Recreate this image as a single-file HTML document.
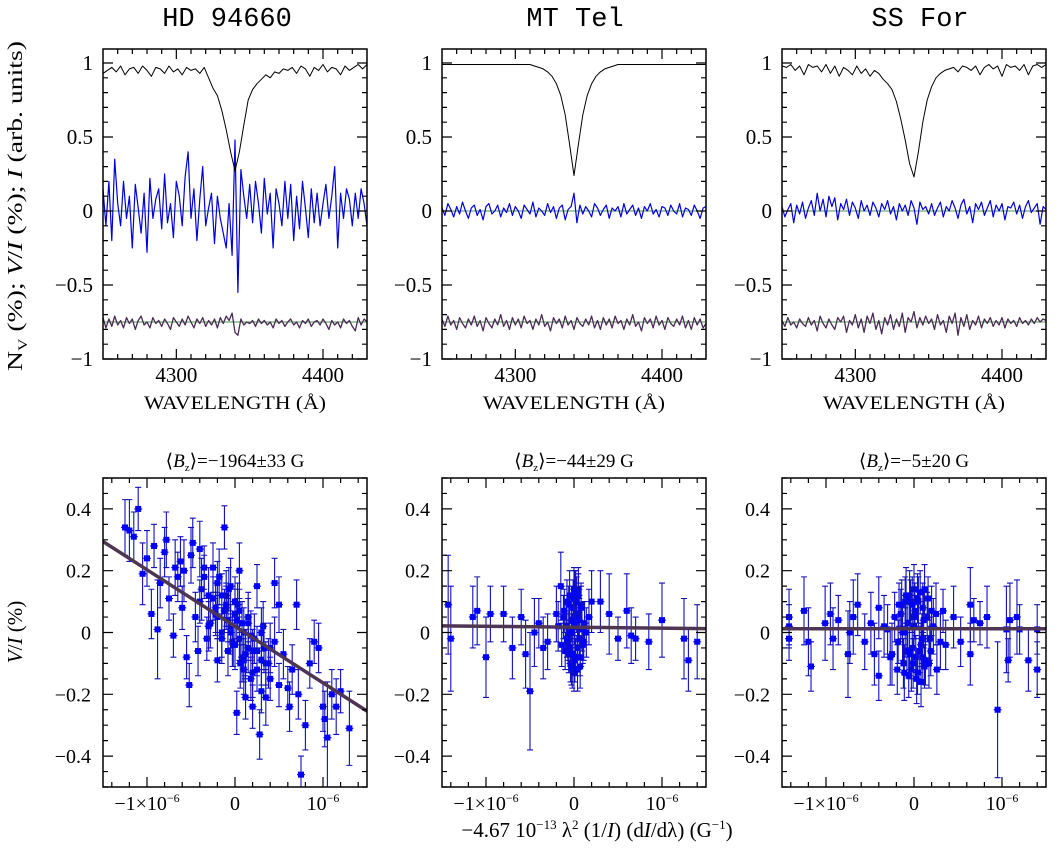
<!DOCTYPE html>
<html><head><meta charset="utf-8"><title>Magnetic field panels</title>
<style>
html,body{margin:0;padding:0;background:#fff;}
svg{display:block;font-family:"Liberation Serif",serif;}
</style></head>
<body>
<svg id="fig" xmlns="http://www.w3.org/2000/svg" width="1060" height="848" viewBox="0 0 1060 848">
<rect x="0" y="0" width="1060" height="848" fill="#fff"/>
<text x="227" y="26" font-family="Liberation Mono, monospace" font-size="27" text-anchor="middle">HD 94660</text>
<text x="575" y="26" font-family="Liberation Mono, monospace" font-size="27" text-anchor="middle">MT Tel</text>
<text x="920" y="26" font-family="Liberation Mono, monospace" font-size="27" text-anchor="middle">SS For</text>
<text transform="translate(22,206) rotate(-90)" font-size="21" text-anchor="middle" textLength="330" lengthAdjust="spacingAndGlyphs">N<tspan font-size="13" dy="5">V</tspan><tspan dy="-5"> (%); </tspan><tspan font-style="italic">V</tspan>/<tspan font-style="italic">I</tspan> (%); <tspan font-style="italic">I</tspan> (arb. units)</text>
<text transform="translate(22,632) rotate(-90)" font-size="21" text-anchor="middle"><tspan font-style="italic">V</tspan>/<tspan font-style="italic">I</tspan> (%)</text>
<text x="597" y="837" font-size="21" text-anchor="middle">−4.67 10<tspan font-size="13" dy="-8">−13</tspan><tspan dy="8"> λ</tspan><tspan font-size="13" dy="-8">2</tspan><tspan dy="8"> (1/</tspan><tspan font-style="italic">I</tspan>) (d<tspan font-style="italic">I</tspan>/dλ) (G<tspan font-size="13" dy="-8">−1</tspan><tspan dy="8">)</tspan></text>
</svg>
<script>
// ---------- data ----------
const wlRange = [4250, 4430];
const hdI = [0.93,0.95,0.97,0.94,0.98,0.92,0.96,0.97,0.93,0.98,0.95,0.91,0.97,0.96,0.93,0.98,0.94,0.96,0.92,0.97,0.95,0.96,0.93,0.97,0.90,0.83,0.78,0.68,0.55,0.40,0.27,0.40,0.58,0.75,0.82,0.86,0.89,0.92,0.90,0.94,0.93,0.96,0.95,0.97,0.93,0.98,0.96,0.91,0.97,0.95,0.99,0.94,0.97,0.96,0.92,0.98,0.95,0.97,0.99,0.96,0.99];
const mtI = [0.99,0.99,0.99,0.99,0.99,0.99,0.99,0.99,0.99,0.99,0.99,0.99,0.99,0.99,0.99,0.99,0.99,0.99,0.99,0.99,0.99,0.98,0.97,0.96,0.94,0.91,0.86,0.78,0.65,0.45,0.24,0.45,0.65,0.78,0.86,0.91,0.94,0.96,0.97,0.98,0.99,0.99,0.99,0.99,0.99,0.99,0.99,0.99,0.99,0.99,0.99,0.99,0.99,0.99,0.99,0.99,0.99,0.99,0.99,0.99,0.99];
const ssI = [0.98,0.97,0.99,0.95,0.98,0.92,0.99,0.97,0.98,0.94,0.99,0.93,0.98,0.91,0.97,0.95,0.92,0.98,0.93,0.96,0.91,0.95,0.93,0.89,0.86,0.82,0.74,0.62,0.48,0.32,0.23,0.40,0.60,0.75,0.84,0.90,0.93,0.95,0.96,0.97,0.94,0.98,0.97,0.95,0.98,0.92,0.97,0.99,0.96,0.98,0.91,0.99,0.97,0.98,0.95,0.99,0.92,0.98,0.99,0.97,0.99];
const hdV = [0.15,-0.1,0.2,-0.2,0.35,0.05,-0.1,0.2,-0.05,0.1,-0.25,0.18,0.02,-0.15,0.12,-0.28,0.22,-0.05,0.08,0.15,-0.12,0.25,-0.08,0.05,-0.18,0.2,0.1,-0.1,0.23,0.4,-0.05,0.15,-0.2,0.08,0.3,-0.1,0.02,0.12,-0.22,0.1,-0.05,-0.15,-0.25,0.05,-0.3,0.48,-0.55,0.28,0.1,-0.05,0.18,-0.08,0.2,0.05,-0.15,0.22,-0.02,0.12,-0.25,0.15,0.05,-0.1,0.2,-0.05,0.18,-0.2,0.1,-0.12,0.2,0.02,-0.18,0.15,-0.08,0.12,-0.1,0.05,0.18,-0.05,0.1,0.3,-0.25,0.12,-0.05,0.15,0.08,-0.1,0.12,-0.05,0.15,0.05,-0.1];
const mtV = [0.02,-0.03,0.05,0.01,-0.04,0.03,-0.02,0.06,0.0,-0.05,0.02,0.04,-0.03,0.01,-0.06,0.03,0.05,-0.02,0.0,0.04,-0.04,0.02,-0.01,0.05,-0.03,0.03,0.0,-0.05,0.04,0.01,-0.02,0.06,-0.04,0.02,0.0,-0.03,0.05,-0.01,0.03,-0.05,0.02,0.04,-0.06,0.01,0.03,0.12,-0.08,0.04,-0.02,0.03,0.0,-0.04,0.05,0.02,-0.03,0.01,0.04,-0.05,0.02,0.0,0.03,-0.04,0.05,-0.02,0.01,0.04,-0.03,0.02,-0.05,0.03,0.0,0.05,-0.02,0.01,-0.04,0.03,0.02,-0.03,0.04,0.0,-0.02,0.05,-0.04,0.02,0.01,-0.03,0.04,0.0,-0.05,0.02,0.03];
const ssV = [0.03,-0.04,0.01,0.05,-0.08,0.04,-0.02,0.06,-0.05,0.02,0.07,-0.03,0.12,0.0,0.08,-0.04,0.1,0.03,0.09,-0.06,0.05,0.01,0.08,-0.03,0.06,0.02,-0.05,0.07,0.0,0.04,-0.03,0.06,0.02,-0.04,0.05,0.01,0.07,-0.02,0.03,-0.06,0.05,0.0,0.04,-0.03,0.07,0.02,-0.09,0.06,0.01,0.03,-0.02,0.05,-0.03,0.02,0.06,-0.04,0.03,0.0,0.07,0.02,-0.05,0.04,0.08,-0.02,0.03,-0.08,0.05,0.01,0.06,-0.03,0.02,0.07,-0.04,0.04,0.0,0.05,-0.06,0.03,0.02,0.06,-0.02,0.04,-0.05,0.03,0.07,-0.01,0.02,0.05,-0.09,0.03,0.01];
const hdN = [-0.72,-0.79,-0.73,-0.78,-0.71,-0.77,-0.74,-0.79,-0.72,-0.76,-0.73,-0.8,-0.74,-0.71,-0.77,-0.75,-0.79,-0.72,-0.76,-0.74,-0.78,-0.73,-0.76,-0.8,-0.72,-0.75,-0.78,-0.73,-0.77,-0.71,-0.75,-0.79,-0.73,-0.76,-0.72,-0.78,-0.74,-0.77,-0.73,-0.79,-0.72,-0.76,-0.71,-0.74,-0.69,-0.82,-0.84,-0.73,-0.77,-0.75,-0.76,-0.74,-0.78,-0.73,-0.76,-0.74,-0.77,-0.75,-0.79,-0.73,-0.76,-0.74,-0.78,-0.75,-0.73,-0.77,-0.75,-0.79,-0.74,-0.76,-0.73,-0.78,-0.75,-0.74,-0.77,-0.73,-0.76,-0.8,-0.74,-0.77,-0.75,-0.79,-0.73,-0.76,-0.74,-0.78,-0.81,-0.72,-0.77,-0.73,-0.75];
const mtN = [-0.73,-0.78,-0.71,-0.77,-0.74,-0.8,-0.72,-0.76,-0.79,-0.73,-0.77,-0.71,-0.78,-0.74,-0.81,-0.72,-0.76,-0.79,-0.73,-0.77,-0.7,-0.78,-0.74,-0.8,-0.72,-0.77,-0.73,-0.79,-0.71,-0.76,-0.74,-0.8,-0.73,-0.77,-0.7,-0.78,-0.75,-0.81,-0.72,-0.76,-0.73,-0.79,-0.71,-0.77,-0.74,-0.8,-0.72,-0.76,-0.78,-0.73,-0.77,-0.71,-0.79,-0.74,-0.8,-0.72,-0.77,-0.73,-0.79,-0.71,-0.76,-0.74,-0.8,-0.73,-0.77,-0.7,-0.78,-0.75,-0.81,-0.72,-0.76,-0.73,-0.79,-0.71,-0.77,-0.74,-0.8,-0.72,-0.76,-0.78,-0.73,-0.77,-0.71,-0.79,-0.74,-0.8,-0.72,-0.77,-0.73,-0.79,-0.76];
const ssN = [-0.74,-0.78,-0.72,-0.77,-0.75,-0.79,-0.73,-0.76,-0.78,-0.72,-0.77,-0.74,-0.81,-0.71,-0.76,-0.79,-0.73,-0.77,-0.8,-0.72,-0.75,-0.71,-0.82,-0.74,-0.77,-0.7,-0.79,-0.73,-0.82,-0.71,-0.76,-0.69,-0.8,-0.74,-0.83,-0.72,-0.77,-0.7,-0.8,-0.73,-0.78,-0.69,-0.82,-0.72,-0.75,-0.68,-0.79,-0.72,-0.77,-0.71,-0.76,-0.73,-0.8,-0.7,-0.77,-0.74,-0.82,-0.71,-0.76,-0.69,-0.84,-0.72,-0.78,-0.7,-0.8,-0.74,-0.77,-0.71,-0.79,-0.73,-0.76,-0.72,-0.78,-0.74,-0.77,-0.72,-0.79,-0.73,-0.76,-0.74,-0.78,-0.72,-0.76,-0.74,-0.77,-0.73,-0.76,-0.72,-0.75,-0.73,-0.74];

// scatter data (x in units of 1e-6)
const hdX = [-1.25,-1.2,-1.15,-1.1,-1.05,-1.0,-0.95,-0.92,-0.88,-0.85,-0.8,-0.78,-0.75,-0.7,-0.68,-0.65,-0.62,-0.6,-0.58,-0.55,-0.52,-0.5,-0.48,-0.45,-0.42,-0.4,-0.38,-0.35,-0.32,-0.3,-0.28,-0.25,-0.22,-0.2,-0.18,-0.15,-0.12,-0.1,-0.08,-0.05,-0.03,0,0.02,0.05,0.08,0.1,0.12,0.15,0.18,0.2,0.22,0.25,0.28,0.3,0.32,0.35,0.38,0.4,0.45,0.5,0.55,0.6,0.62,0.65,0.7,0.72,0.75,0.8,0.85,0.9,0.95,1.0,1.02,1.05,1.1,1.15,1.2,1.3,-0.1,0.05,-0.2,0.15,-0.05,0.1,0.0,-0.15,0.25,0.3,-0.02,0.03,0.06,-0.08,0.12,-0.12,0.2,0.08,-0.35,-0.3,-0.25,-0.2,-0.15,-0.1,-0.05,0,0.05,0.1,0.15,0.2,0.25,0.3,0.35,0.4,0.45,0.5,-0.22,0.18,0.02,-0.07,0.33,-0.4];
const hdY = [0.34,0.33,0.31,0.40,0.19,0.24,0.06,0.28,0.01,0.16,0.26,0.30,0.11,-0.01,0.21,0.18,0.23,0.08,0.20,-0.08,-0.17,0.25,0.29,0.05,-0.06,0.27,0.14,0.21,-0.02,0.12,0.03,0.21,0.08,-0.09,0.18,0.0,0.34,0.12,-0.06,0.15,-0.03,0.06,-0.26,0.2,-0.08,-0.12,-0.21,0.05,-0.15,-0.24,-0.02,0.15,-0.33,-0.19,0.02,-0.21,-0.1,-0.05,0.16,0.09,-0.07,-0.18,-0.24,-0.12,0.09,-0.2,-0.46,-0.3,-0.1,-0.03,-0.05,-0.24,-0.28,-0.34,-0.2,-0.24,-0.19,-0.31,0.08,-0.02,0.05,-0.05,0.02,0.0,0.1,0.12,-0.06,-0.09,-0.04,0.09,-0.1,0.04,-0.07,0.07,-0.13,0.03,0.18,0.02,0.11,0.16,-0.02,0.09,0.0,-0.04,0.07,-0.09,0.03,-0.06,-0.12,0.0,-0.1,-0.15,-0.03,-0.17,0.06,-0.01,0.04,0.14,-0.05,0.1];
const hdE = [0.09,0.1,0.08,0.07,0.1,0.09,0.08,0.07,0.16,0.08,0.08,0.09,0.07,0.07,0.09,0.08,0.08,0.07,0.1,0.07,0.07,0.09,0.08,0.08,0.08,0.09,0.1,0.07,0.07,0.09,0.08,0.08,0.08,0.07,0.09,0.08,0.07,0.08,0.08,0.09,0.08,0.08,0.07,0.09,0.08,0.08,0.07,0.08,0.07,0.07,0.08,0.07,0.08,0.07,0.08,0.09,0.08,0.08,0.08,0.09,0.08,0.07,0.08,0.08,0.08,0.08,0.06,0.08,0.08,0.07,0.08,0.08,0.09,0.18,0.08,0.09,0.07,0.12,0.07,0.07,0.07,0.08,0.07,0.08,0.08,0.07,0.08,0.08,0.07,0.07,0.08,0.07,0.08,0.07,0.08,0.07,0.07,0.08,0.07,0.07,0.08,0.07,0.07,0.08,0.07,0.07,0.08,0.07,0.07,0.08,0.07,0.07,0.08,0.07,0.07,0.08,0.07,0.07,0.08,0.07];
const mtX = [-1.43,-1.4,-1.15,-1.1,-1.0,-0.95,-0.8,-0.7,-0.6,-0.55,-0.5,-0.45,-0.4,-0.35,-0.3,-0.2,-0.15,0.05,0.2,0.3,0.4,0.5,0.6,0.65,0.7,0.85,1.0,1.25,1.3,1.4,1.6,-0.12,-0.1,-0.08,-0.07,-0.05,-0.04,-0.03,-0.02,-0.01,0,0,0.01,0.02,0.03,0.04,0.05,0.06,0.08,0.1,0.12,-0.06,0.02,-0.02,0.07,0.0,-0.09,-0.06,-0.04,-0.01,0.01,0.03,0.05,0.07,0.09,0.11,-0.11,-0.03,0.0,0.02,0.04,-0.05,0.06,-0.08,0.08,-0.02,0.01,0.14,-0.14,0.17,-0.18];
const mtY = [0.09,-0.02,0.05,0.07,-0.08,0.06,0.06,-0.05,0.05,-0.07,-0.19,0.0,0.03,-0.05,-0.03,0.06,0.15,0.14,0.1,0.1,0.06,-0.02,0.07,-0.01,-0.02,-0.03,0.04,-0.02,-0.09,-0.03,-0.02,0.05,-0.06,0.1,-0.03,0.12,-0.1,0.04,-0.12,0.08,0.14,-0.13,0.02,-0.08,0.11,-0.05,0.06,-0.02,0.09,-0.04,0.03,-0.07,0.13,0.0,-0.11,0.05,0.02,0.09,-0.05,0.11,-0.09,0.06,0.12,-0.08,0.01,-0.03,0.07,-0.11,0.03,0.1,-0.12,0.0,0.04,-0.02,0.08,-0.07,0.13,0.0,-0.04,0.05,0.02];
const mtE = [0.16,0.17,0.1,0.11,0.13,0.09,0.09,0.1,0.09,0.11,0.19,0.11,0.08,0.1,0.09,0.09,0.11,0.07,0.1,0.1,0.13,0.07,0.12,0.09,0.07,0.09,0.12,0.13,0.1,0.12,0.09,0.07,0.06,0.07,0.06,0.08,0.06,0.07,0.06,0.07,0.07,0.06,0.07,0.06,0.07,0.06,0.07,0.06,0.07,0.06,0.07,0.06,0.07,0.06,0.07,0.06,0.07,0.06,0.07,0.06,0.07,0.06,0.07,0.06,0.07,0.06,0.07,0.06,0.07,0.06,0.07,0.06,0.07,0.06,0.07,0.06,0.07,0.08,0.07,0.09,0.08];
const ssX = [-1.42,-1.42,-1.42,-1.25,-1.2,-1.17,-1.01,-0.95,-0.92,-0.86,-0.75,-0.73,-0.69,-0.64,-0.56,-0.49,-0.45,-0.4,-0.4,-0.34,-0.25,-0.19,-0.17,0.45,0.53,0.64,0.64,0.68,0.75,0.83,0.95,1.05,1.07,1.09,1.17,1.2,1.3,1.4,1.4,-0.15,-0.12,-0.1,-0.08,-0.05,-0.03,0.0,0.02,0.05,0.08,0.1,0.12,0.15,0.18,0.2,-0.06,0.04,-0.02,0.1,0.0,0.25,0.3,-0.1,0.06,-0.3,-0.27,-0.22,-0.18,-0.14,-0.11,-0.07,-0.04,-0.01,0.01,0.03,0.07,0.09,0.11,0.13,0.16,0.19,0.22,0.26,0.33,0.36,-0.09,-0.05,0.04,0.12,-0.13,0.17,0.0,0.08,-0.02];
const ssY = [0.02,0.05,-0.02,0.07,-0.03,-0.11,0.03,0.06,-0.02,0.04,-0.07,0.0,0.05,0.09,-0.03,0.03,-0.07,-0.14,0.08,0.02,-0.07,-0.12,0.09,0.05,-0.03,-0.07,0.09,0.04,0.03,0.05,-0.25,0.01,-0.09,0.04,0.05,0.01,-0.09,-0.12,0.01,0.06,-0.1,0.1,-0.06,0.12,-0.12,0.14,-0.08,0.1,-0.04,0.08,-0.11,0.05,-0.02,0.07,-0.14,0.11,-0.05,-0.08,0.02,0.06,-0.03,0.0,-0.06,0.01,-0.08,0.05,-0.03,0.09,-0.13,0.03,0.1,-0.1,0.07,-0.15,0.13,-0.02,0.04,-0.09,0.11,-0.06,0.02,-0.12,0.07,-0.04,0.12,-0.07,-0.13,0.14,0.0,-0.1,0.05,-0.16,0.09];
const ssE = [0.07,0.09,0.07,0.11,0.11,0.08,0.12,0.1,0.1,0.08,0.14,0.1,0.12,0.1,0.09,0.1,0.1,0.08,0.1,0.1,0.1,0.08,0.07,0.1,0.08,0.1,0.12,0.07,0.07,0.1,0.22,0.14,0.07,0.12,0.12,0.08,0.1,0.09,0.08,0.08,0.08,0.08,0.07,0.08,0.07,0.08,0.07,0.08,0.07,0.08,0.07,0.08,0.07,0.08,0.07,0.08,0.07,0.08,0.07,0.1,0.09,0.08,0.07,0.08,0.09,0.08,0.07,0.08,0.09,0.08,0.07,0.08,0.09,0.08,0.07,0.08,0.09,0.08,0.07,0.08,0.09,0.08,0.07,0.08,0.09,0.08,0.07,0.08,0.09,0.08,0.07,0.08,0.09];
const fitSlope = [-0.183, -0.003, 0.0];
const fitIntercept = [0.02, 0.017, 0.012];
const bzLabels = ["−1964±33 G", "−44±29 G", "−5±20 G"];
const topYTicks = [1, 0.5, 0, -0.5, -1];
const topYTickLabels = ["1", "0.5", "0", "−0.5", "−1"];
const topXTicks = [4300, 4400];
const botYTicks = [0.4, 0.2, 0, -0.2, -0.4];
const botYTickLabels = ["0.4", "0.2", "0", "−0.2", "−0.4"];
const botXTicks = [-1, 0, 1];

// ---------- drawing ----------
const NS = "http://www.w3.org/2000/svg";
const svg = document.getElementById("fig");
function mk(tag, attrs, parent) {
  const el = document.createElementNS(NS, tag);
  for (const k in attrs) el.setAttribute(k, attrs[k]);
  (parent || svg).appendChild(el);
  return el;
}
const colX = [103, 442, 782];
const PW = 264;
const TOP = {y0: 49, y1: 359, ymin: -1, ymax: 1.0946};
const BOT = {y0: 478, y1: 787, ymin: -0.5, ymax: 0.5};

function topPanel(c, Iarr, Varr, Narr, key) {
  const L = colX[c];
  const xs = w => L + (w - wlRange[0]) / (wlRange[1] - wlRange[0]) * PW;
  const ys = v => TOP.y1 - (v - TOP.ymin) / (TOP.ymax - TOP.ymin) * (TOP.y1 - TOP.y0);
  const g = mk("g", {});
  
  
  const cp = mk("clipPath", {id: "cpt" + c}, g);
  mk("rect", {x: L, y: TOP.y0, width: PW, height: TOP.y1 - TOP.y0}, cp);
  const inner = mk("g", {"clip-path": "url(#cpt" + c + ")"}, g);
  const z = mk("line", {x1: L, x2: L + PW, y1: ys(0), y2: ys(0), stroke: "#4a9a4a", "stroke-width": 1}, inner);
  
  
  const nb = mk("line", {x1: L, x2: L + PW, y1: ys(-0.75), y2: ys(-0.75), stroke: "#4a9a4a", "stroke-width": 1}, inner);
  
  
  function series(arr, color, width, name) {
    const n = arr.length;
    const pts = arr.map((v, i) => xs(wlRange[0] + i * (wlRange[1] - wlRange[0]) / (n - 1)).toFixed(1) + "," + ys(v).toFixed(1)).join(" ");
    const p = mk("polyline", {points: pts, fill: "none", stroke: color, "stroke-width": width, "stroke-linejoin": "round"}, inner);
    
    
  }
  series(Narr, "#4a2a55", 1.3, key + "-null-n-series");
  series(Varr, "#0000d8", 1.2, key + "-stokes-v-series");
  series(Iarr, "#000", 1, key + "-intensity-series");
  const fr = mk("rect", {x: L, y: TOP.y0, width: PW, height: TOP.y1 - TOP.y0, fill: "none", stroke: "#000", "stroke-width": 1.5}, g);
  
  
  let d = "";
  for (let k = -10; k <= 10; k++) {
    const v = k / 10, y = ys(v), len = (k % 5 === 0) ? 10 : 5;
    d += `M${L},${y}h${len}M${L + PW},${y}h${-len}`;
  }
  for (let w = 4260; w <= 4420; w += 10) {
    const x = xs(w), len = (w % 100 === 0) ? 10 : 5;
    d += `M${x},${TOP.y1}v${-len}M${x},${TOP.y0}v${len}`;
  }
  const tk = mk("path", {d: d, stroke: "#000", "stroke-width": 1.2, fill: "none"}, g);
  
  
  topYTicks.forEach((v, i) => {
    const t = mk("text", {x: L - 10, y: ys(v) + 7, "font-size": 21, "text-anchor": "end"}, g);
    
    
    t.textContent = topYTickLabels[i];
  });
  topXTicks.forEach(w => {
    const t = mk("text", {x: xs(w), y: 382, "font-size": 21, "text-anchor": "middle"}, g);
    
    
    t.textContent = String(w);
  });
  const xl = mk("text", {x: L + PW / 2, y: 409, "font-size": 19, "text-anchor": "middle", textLength: 182, lengthAdjust: "spacingAndGlyphs"}, g);
  
  
  xl.textContent = "WAVELENGTH (Å)";
}

function botPanel(c, X, Y, E, key) {
  const L = colX[c];
  const xs = v => L + (v + 1.5) / 3 * PW;
  const ys = v => BOT.y1 - (v - BOT.ymin) / (BOT.ymax - BOT.ymin) * (BOT.y1 - BOT.y0);
  const g = mk("g", {});
  
  
  const cp = mk("clipPath", {id: "cpb" + c}, g);
  mk("rect", {x: L, y: BOT.y0, width: PW, height: BOT.y1 - BOT.y0}, cp);
  const inner = mk("g", {"clip-path": "url(#cpb" + c + ")"}, g);
  X.forEach((xv, i) => {
    const x = xs(xv), y = ys(Y[i]), yt = ys(Y[i] + E[i]), yb = ys(Y[i] - E[i]);
    const eb = mk("path", {d: `M${x},${yt}V${yb}M${x - 3},${yt}h6M${x - 3},${yb}h6M${x - 4},${y}h8`, stroke: "#1010c0", "stroke-width": 1.1, fill: "none"}, inner);
    
    
    const pt = mk("rect", {x: x - 3, y: y - 3, width: 6, height: 6, fill: "#0000ff"}, inner);
    
    
  });
  const fit = mk("line", {x1: xs(-1.5), x2: xs(1.5), y1: ys(fitIntercept[c] + fitSlope[c] * -1.5), y2: ys(fitIntercept[c] + fitSlope[c] * 1.5), stroke: "#4e3552", "stroke-width": 3.5}, inner);
  
  
  const fr = mk("rect", {x: L, y: BOT.y0, width: PW, height: BOT.y1 - BOT.y0, fill: "none", stroke: "#000", "stroke-width": 1.5}, g);
  
  
  let d = "";
  for (let k = -10; k <= 10; k++) {
    const y = ys(k * 0.05), len = (k % 4 === 0) ? 10 : 5;
    d += `M${L},${y}h${len}M${L + PW},${y}h${-len}`;
  }
  for (let k = -7; k <= 7; k++) {
    const x = xs(k * 0.2), len = (k % 5 === 0) ? 10 : 5;
    d += `M${x},${BOT.y1}v${-len}M${x},${BOT.y0}v${len}`;
  }
  const tk = mk("path", {d: d, stroke: "#000", "stroke-width": 1.2, fill: "none"}, g);
  
  
  botYTicks.forEach((v, i) => {
    const t = mk("text", {x: L - 12, y: ys(v) + 7, "font-size": 20, "text-anchor": "end"}, g);
    
    
    t.textContent = botYTickLabels[i];
  });
  botXTicks.forEach(v => {
    const t = mk("text", {x: xs(v), y: 810, "font-size": 20, "text-anchor": "middle"}, g);
    
    
    const pre = v === 0 ? "0" : (v < 0 ? "−1×10" : "10");
    t.appendChild(document.createTextNode(pre));
    if (v !== 0) {
      const s = mk("tspan", {"font-size": 12, dy: -8}, t);
      s.textContent = "−6";
    }
  });
  const tt = mk("text", {x: L + PW / 2, y: 467, "font-size": 19, "text-anchor": "middle"}, g);
  
  
  tt.appendChild(document.createTextNode("⟨"));
  const b = mk("tspan", {"font-style": "italic"}, tt); b.textContent = "B";
  const zz = mk("tspan", {"font-size": 11, dy: 4}, tt); zz.textContent = "z";
  const rest = mk("tspan", {dy: -4}, tt); rest.textContent = "⟩=" + bzLabels[c];
}

topPanel(0, hdI, hdV, hdN, "hd94660");
topPanel(1, mtI, mtV, mtN, "mt-tel");
topPanel(2, ssI, ssV, ssN, "ss-for");
botPanel(0, hdX, hdY, hdE, "hd94660");
botPanel(1, mtX, mtY, mtE, "mt-tel");
botPanel(2, ssX, ssY, ssE, "ss-for");
</script>
</body></html>
